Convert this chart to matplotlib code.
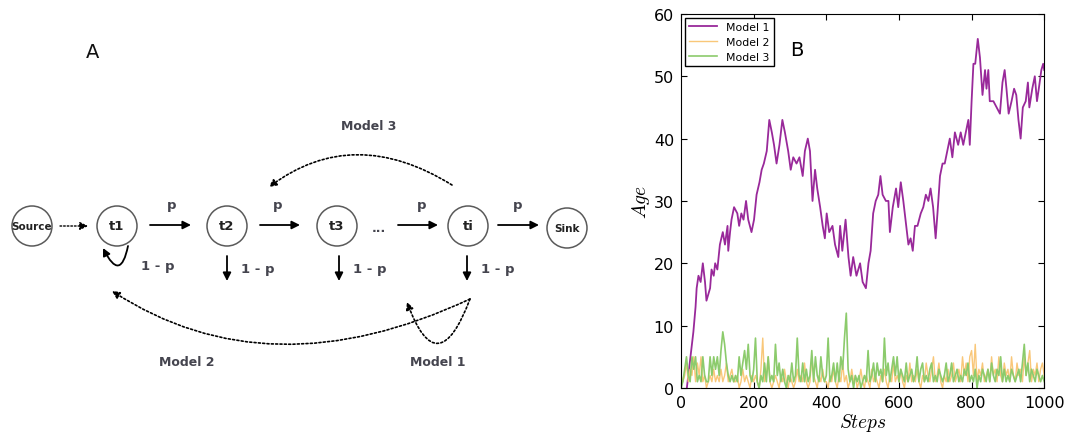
"""
Two-panel figure: A = transition diagram of the three ageing models,
B = age of the oldest item vs steps for each model.
"""

import numpy as np
import matplotlib.pyplot as plt
from matplotlib.patches import Circle, FancyArrowPatch
from matplotlib.path import Path

plt.rcParams["mathtext.fontset"] = "cm"

# ----------------------------------------------------------------------
# panel B data
m1_steps = [16, 22, 28, 34, 40, 43, 48, 54, 60, 66, 70, 75, 80, 84, 90, 94, 100,
            107, 115, 121, 128, 130, 135, 139, 146, 155, 160, 166, 172, 179, 185,
            194, 201, 208, 216, 222, 228, 236, 243, 250, 256, 263, 271, 279, 286,
            295, 302, 309, 318, 326, 335, 341, 349, 355, 362, 369, 375, 383, 390,
            396, 401, 408, 417, 424, 433, 438, 444, 453, 461, 467, 474, 483, 493,
            500, 509, 516, 522, 529, 536, 543, 549, 555, 564, 571, 575, 583, 592,
            598, 605, 612, 618, 626, 632, 638, 644, 651, 660, 667, 674, 681, 687,
            694, 701, 706, 713, 720, 726, 733, 740, 747, 754, 763, 770, 777, 784,
            791, 795, 800, 805, 810, 817, 823, 830, 837, 841, 846, 850, 860, 869,
            878, 885, 891, 896, 902, 910, 917, 923, 929, 935, 941, 949, 955, 959,
            967, 974, 980, 985, 992, 997, 1000]
m1_age = [0, 3, 6, 9, 13, 16, 18, 17, 20, 17, 14, 15, 16, 19, 18, 20, 19,
          23, 25, 23, 26, 22, 25, 27, 29, 28, 26, 28, 27, 30, 27,
          25, 27, 31, 33, 35, 36, 38, 43, 41, 39, 36, 39, 43, 41,
          38, 35, 37, 36, 37, 34, 38, 40, 38, 30, 35, 32, 29, 26,
          24, 28, 25, 26, 23, 21, 26, 22, 27, 21, 18, 21, 18, 20,
          17, 16, 20, 22, 28, 30, 31, 34, 31, 30, 30, 25, 29, 32,
          29, 33, 30, 27, 23, 24, 22, 26, 26, 28, 29, 31, 30, 32,
          29, 24, 28, 34, 36, 36, 38, 40, 37, 41, 39, 41, 39, 41,
          43, 39, 46, 52, 52, 56, 53, 47, 51, 48, 51, 46, 46, 45,
          44, 49, 51, 48, 44, 46, 48, 47, 43, 40, 45, 46, 49, 45,
          48, 50, 46, 48, 51, 52, 51]

m23_steps = list(range(0, 1001, 5))
m2_age = [2, 1, 2, 4, 1, 3, 2, 5, 1, 4,
          2, 5, 1, 2, 0, 1, 2, 1, 3, 1,
          2, 1, 3, 1, 2, 4, 1, 2, 3, 1,
          1, 2, 0, 1, 3, 1, 2, 1, 0, 2,
          1, 2, 1, 0, 3, 8, 1, 2, 5, 1,
          0, 1, 2, 1, 0, 2, 1, 3, 1, 0,
          2, 1, 0, 1, 3, 1, 2, 1, 4, 1,
          0, 1, 5, 2, 1, 0, 2, 1, 3, 1,
          1, 0, 2, 1, 3, 1, 0, 2, 1, 4,
          1, 2, 0, 1, 3, 1, 2, 0, 1, 3,
          1, 0, 2, 1, 0, 3, 1, 2, 1, 0,
          2, 1, 3, 1, 0, 2, 1, 4, 1, 2,
          1, 3, 1, 0, 2, 1, 4, 1, 2, 1,
          3, 1, 0, 2, 1, 4, 2, 1, 3, 5,
          1, 2, 4, 1, 0, 2, 1, 3, 1, 2,
          4, 1, 2, 3, 1, 5, 2, 4, 1, 5,
          6, 2, 7, 1, 3, 2, 4, 1, 2, 3,
          1, 5, 2, 3, 1, 5, 2, 1, 4, 2,
          3, 1, 5, 2, 1, 4, 2, 3, 1, 5,
          2, 4, 6, 1, 3, 2, 4, 1, 3, 4,
          2]
m3_age = [0, 1, 3, 5, 2, 1, 5, 3, 5, 1,
          2, 1, 5, 2, 1, 1, 5, 2, 5, 3,
          5, 2, 6, 9, 7, 4, 2, 1, 2, 1,
          2, 1, 5, 2, 4, 6, 3, 7, 2, 1,
          3, 8, 1, 0, 2, 1, 4, 1, 5, 1,
          2, 1, 7, 2, 4, 1, 3, 1, 0, 2,
          1, 4, 1, 2, 8, 2, 1, 4, 1, 3,
          1, 2, 6, 1, 5, 2, 1, 5, 2, 1,
          2, 8, 1, 2, 4, 1, 4, 1, 5, 3,
          8, 12, 3, 1, 2, 0, 2, 1, 2, 0,
          1, 2, 1, 6, 1, 2, 4, 1, 4, 2,
          3, 1, 8, 2, 4, 1, 3, 5, 2, 5,
          1, 3, 2, 1, 4, 1, 2, 3, 1, 2,
          5, 1, 3, 4, 1, 2, 1, 3, 4, 1,
          2, 1, 3, 2, 1, 2, 4, 1, 2, 4,
          1, 2, 3, 1, 2, 1, 3, 2, 4, 1,
          2, 1, 3, 0, 2, 1, 3, 2, 1, 3,
          1, 4, 2, 1, 3, 2, 5, 1, 3, 1,
          2, 1, 3, 2, 1, 2, 3, 1, 4, 7,
          2, 4, 1, 3, 2, 1, 3, 2, 1, 2,
          1]

# panel A nodes: label, centre (pixels), font size
nodes = [("Source", 32, 227, 7.5), ("t1", 117, 227, 9.5), ("t2", 227, 227, 9.5),
         ("t3", 337, 227, 9.5), ("ti", 468, 227, 9.5), ("Sink", 567, 229, 7.5)]

TXT = "#45454f"
DOTS = (0, (1.2, 1.4))


def qcurve(p0, mid, p2):
    """Quadratic Bezier from p0 to p2 passing through mid at t=0.5."""
    c = (2 * mid[0] - (p0[0] + p2[0]) / 2, 2 * mid[1] - (p0[1] + p2[1]) / 2)
    return Path([p0, c, p2], [Path.MOVETO, Path.CURVE3, Path.CURVE3])


def arrow(ax, start, end, ls="-", lw=1.3):
    ax.add_patch(FancyArrowPatch(start, end, arrowstyle="-|>", mutation_scale=12,
                                 color="k", lw=lw, linestyle=ls,
                                 shrinkA=0, shrinkB=0))


def draw_diagram(ax):
    ax.set_xlim(0, 1081)
    ax.set_ylim(439, 0)
    ax.axis("off")
    for name, x, y, fs in nodes:
        ax.add_patch(Circle((x, y), 20, fill=False, ec="#5a5a5a", lw=1.1))
        ax.text(x, y, name, ha="center", va="center", fontsize=fs,
                fontweight="bold", color="#222222")

    arrow(ax, (60, 227), (88, 227), ls=DOTS, lw=1.0)
    for x0, x1, xp in ((150, 191, 172), (260, 300, 278), (398, 438, 422),
                       (498, 539, 518)):
        arrow(ax, (x0, 226), (x1, 226))
        ax.text(xp, 206, "p", ha="center", va="center", fontsize=9.5,
                fontweight="bold", color=TXT)
    ax.text(379, 229, "...", ha="center", va="center", fontsize=9,
            fontweight="bold", color=TXT)

    for x in (227, 339, 467):
        arrow(ax, (x, 257), (x, 282))
        ax.text(x + 14, 270, "1 - p", ha="left", va="center", fontsize=9.5,
                fontweight="bold", color=TXT)

    # t1 self loop
    ax.add_patch(FancyArrowPatch(path=qcurve((128, 247), (118, 266), (103, 249)),
                                 arrowstyle="-|>", mutation_scale=11, color="k",
                                 lw=1.3))
    ax.text(141, 267, "1 - p", ha="left", va="center", fontsize=9.5,
            fontweight="bold", color=TXT)

    # model loops (dotted)
    for p0, mid, p2 in (((452, 186), (357, 156), (269, 188)),
                        ((470, 300), (280, 345), (112, 292)),
                        ((470, 300), (438, 344), (407, 303))):
        ax.add_patch(FancyArrowPatch(path=qcurve(p0, mid, p2), arrowstyle="-|>",
                                     mutation_scale=11, color="k", lw=1.2,
                                     linestyle=DOTS))
    for lab, x, y in (("Model 3", 369, 127), ("Model 2", 187, 363),
                      ("Model 1", 438, 363)):
        ax.text(x, y, lab, ha="center", va="center", fontsize=9,
                fontweight="bold", color=TXT)

    ax.text(93, 52, "A", ha="center", va="center", fontsize=14, color="#111111")


def main():
    fig = plt.figure(figsize=(10.81, 4.39), dpi=100)
    dax = fig.add_axes([0, 0, 1, 1])
    draw_diagram(dax)

    ax = fig.add_axes([0.630, 0.114, 0.336, 0.852])
    ax.plot(m1_steps, m1_age, color="#99299a", lw=1.3, label="Model 1")
    ax.plot(m23_steps, m2_age, color="#f9c779", lw=1.0, label="Model 2")
    ax.plot(m23_steps, m3_age, color="#8ccb6c", lw=1.2, label="Model 3")
    ax.set_xlim(0, 1000)
    ax.set_ylim(0, 60)
    ax.set_xticks(range(0, 1001, 200))
    ax.set_yticks(range(0, 61, 10))
    ax.tick_params(direction="in", top=True, right=True, labelsize=11.5,
                   length=4, pad=5)
    ax.set_xlabel("$Steps$", fontsize=14, labelpad=1)
    ax.set_ylabel("$Age$", fontsize=14, labelpad=1)
    leg = ax.legend(loc="upper left", fontsize=7.8, fancybox=False,
                    edgecolor="k", framealpha=1, handlelength=2.6,
                    borderaxespad=0.35, labelspacing=0.45)
    leg.get_frame().set_linewidth(1.0)
    ax.text(0.32, 0.905, "B", transform=ax.transAxes, fontsize=14,
            ha="center", va="center")

    fig.savefig("out.png", dpi=100)


if __name__ == "__main__":
    main()
